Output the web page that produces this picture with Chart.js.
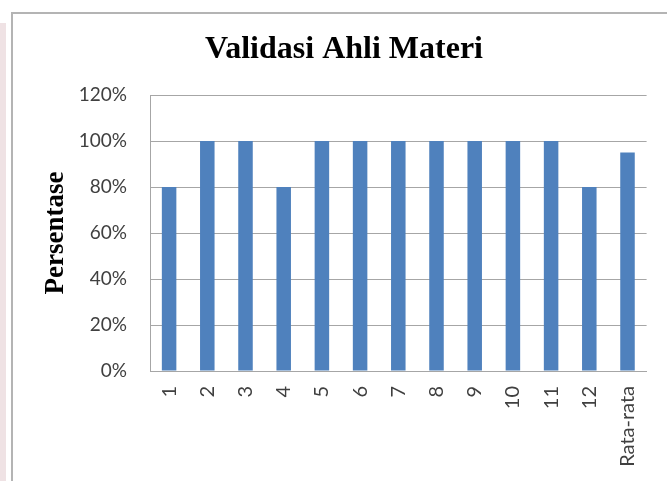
<!DOCTYPE html>
<html>
<head>
<meta charset="utf-8">
<script src="https://cdn.jsdelivr.net/npm/chart.js@4/dist/chart.umd.min.js"></script>
<style>
  html, body { margin: 0; padding: 0; background: #ffffff; }
  #wrap { position: relative; width: 667px; height: 481px; overflow: hidden; background: #ffffff; }
  #strip { position: absolute; left: 0; top: 23px; width: 6px; height: 458px; background: #efe2e4; }
  #frame { position: absolute; left: 11px; top: 12px; width: 700px; height: 520px;
           border: 2px solid #b4b4b4; box-shadow: 1px 1px 1px #d8d8d8; box-sizing: border-box; }
  #c { position: absolute; left: 0; top: 0; }
</style>
</head>
<body>
<div id="wrap">
  <div id="strip"></div>
  <div id="frame"></div>
  <canvas id="c" width="667" height="481"></canvas>
</div>
<script>
const categories = ["1", "2", "3", "4", "5", "6", "7", "8", "9", "10", "11", "12", "Rata-rata"];
const persentase = [80, 100, 100, 80, 100, 100, 100, 100, 100, 100, 100, 80, 95];
const yTicks = [0, 20, 40, 60, 80, 100, 120];
const chartTitle = "Validasi Ahli Materi";
const yTitle = "Persentase";

new Chart(document.getElementById('c'), {
  type: 'bar',
  data: {
    labels: categories,
    datasets: [{
      label: yTitle,
      data: persentase,
      backgroundColor: '#4f81bd',
      borderWidth: 0,
      barPercentage: 0.38,
      categoryPercentage: 1.0
    }]
  },
  options: {
    responsive: false,
    animation: false,
    devicePixelRatio: 1,
    layout: { padding: { left: 34, right: 13, top: 0, bottom: 0 } },
    plugins: {
      legend: { display: false },
      tooltip: { enabled: false },
      title: {
        display: true,
        text: chartTitle,
        color: '#000000',
        font: { family: '"Liberation Serif", "Times New Roman", serif', size: 32, weight: 'bold', lineHeight: 1.2 },
        padding: { top: 31, bottom: 25.6 }
      }
    },
    scales: {
      x: {
        grid: { display: false, drawTicks: false },
        border: { display: true, color: '#a6a6a6', width: 1 },
        ticks: {
          autoSkip: false,
          minRotation: 90,
          maxRotation: 90,
          padding: 15,
          color: '#404040',
          font: { family: 'Lato, "Open Sans", sans-serif', size: 20 }
        },
        afterFit: (s) => { s.height = 110; }
      },
      y: {
        min: 0,
        max: 120,
        afterBuildTicks: (s) => { s.ticks = yTicks.map(v => ({ value: v })); },
        grid: { color: '#a6a6a6', lineWidth: 1, drawTicks: false },
        border: { display: true, color: '#a6a6a6', width: 1 },
        ticks: {
          padding: 23,
          color: '#404040',
          font: { family: 'Lato, "Open Sans", sans-serif', size: 19 },
          callback: (v) => v + '%'
        },
        title: {
          display: true,
          text: yTitle,
          color: '#000000',
          font: { family: '"Liberation Serif", "Times New Roman", serif', size: 27, weight: 'bold', lineHeight: 1.2 },
          padding: { top: 6, bottom: 0 }
        },
        afterFit: (s) => { s.width = 116; }
      }
    }
  }
});
</script>
</body>
</html>
